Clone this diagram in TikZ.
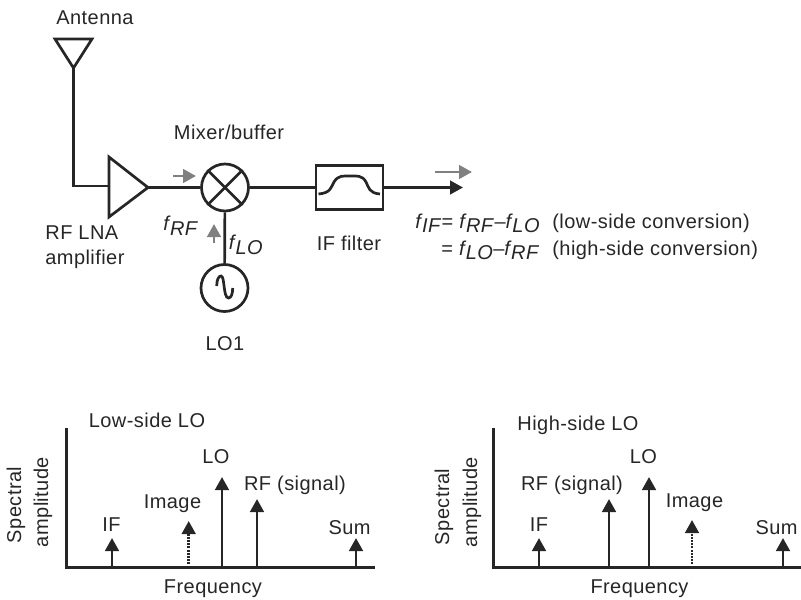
\documentclass[tikz,border=0pt]{standalone}
\usepackage{fontspec}
\setmainfont{Liberation Sans}[LetterSpace=2.2]
\usetikzlibrary{arrows.meta}
\tikzset{
    wire/.style={line width=1.35pt, draw=black!85},
    spike/.style={wire, -{Triangle[length=6.5pt,width=6.8pt]}},
    dotspike/.style={spike, dash pattern=on 1pt off 0.6pt},
    hint/.style={line width=1.3pt, draw=black!50, -{Triangle[length=6.5pt,width=6.8pt]}},
    label/.style={inner sep=0pt, font=\fontsize{10}{12}\selectfont, text=black!85},
    round/.style={draw=black!85, line width=1.35pt, circle, minimum size=23.5pt, inner sep=0pt}
}
\newcommand{\fq}[1]{\textit{f}\kern-0.5pt\raisebox{-0.45ex}{\textit{#1}}}
\begin{document}
\begin{tikzpicture}[x=0.5pt, y=-0.5pt]
    \useasboundingbox (0,0) rectangle (801,599);

    % antenna
    \coordinate (antL) at (55,39);
    \coordinate (antR) at (92,39);
    \coordinate (antTip) at (73.5,68);
    \node[label] (antText) at (95,18) {Antenna};
    \draw[wire, line join=miter] (antL) -- (antR) -- (antTip) -- cycle;

    % LNA
    \coordinate (ampTop) at (109,157);
    \coordinate (ampBot) at (109,217);
    \coordinate (ampTip) at (148,187.5);
    \coordinate (ampIn) at (109,186);
    \draw[wire] (ampTop) -- (ampTip) -- (ampBot) -- cycle;
    \draw[wire] (antTip) |- (ampIn);
    \node[label, anchor=west] (lnaA) at (45,233) {RF LNA};
    \node[label, anchor=west] (lnaB) at (45,259) {amplifier};

    % mixer
    \node[round] (mixer) at (225,187.5) {};
    \draw[wire] (mixer.45) -- (mixer.225);
    \draw[wire] (mixer.135) -- (mixer.315);
    \draw[wire] (ampTip) -- (mixer);
    \node[label] (mixText) at (229,132) {Mixer/buffer};
    \node[label] (fRF) at (181,226) {\fq{RF}};

    % IF filter
    \node[draw=black!85, line width=1.35pt, minimum width=33.5pt, minimum height=22pt, inner sep=0pt] (filter) at (349.5,187.5) {};
    \draw[wire] (318.5,194) .. controls (331,193) and (331,187) .. (334,182)
        .. controls (338,175) and (344,176) .. (350,176)
        .. controls (357,176) and (362,175) .. (366,182)
        .. controls (369,188) and (369,193) .. (380,194);
    \draw[wire] (mixer) -- (filter);
    \coordinate (outEnd) at (463,187.5);
    \draw[spike] (filter) -- (outEnd);
    \node[label] (filText) at (349,243) {IF filter};

    % LO
    \node[round] (osc) at (224.5,288) {};
    \draw[wire] (216.7,286) .. controls (216.7,279) and (219,276) .. (221,276)
        .. controls (225,276) and (223,298) .. (228.5,298)
        .. controls (231,298) and (232.7,294) .. (232.7,288);
    \draw[wire] (mixer) -- (osc);
    \node[label] (fLO) at (246,245) {\fq{LO}};
    \node[label] (oscText) at (225,344) {LO1};

    % grey signal arrows
    \coordinate (rfA) at (173,176);
    \coordinate (rfB) at (196,176);
    \coordinate (loA) at (214,243);
    \coordinate (loB) at (214,224);
    \coordinate (ifA) at (435,172);
    \coordinate (ifB) at (472,172);
    \draw[hint] (rfA) -- (rfB);
    \draw[hint] (loA) -- (loB);
    \draw[hint] (ifA) -- (ifB);

    % equations
    \node[label, anchor=base west] (eqA) at (415,228) {\fq{IF}= \fq{RF}--\fq{LO}};
    \node[label, anchor=base west] (eqB) at (441,255) {= \fq{LO}--\fq{RF}};
    \node[label, anchor=base west] (eqAtext) at (552,228) {(low-side conversion)};
    \node[label, anchor=base west] (eqBtext) at (552,255) {(high-side conversion)};

    % low-side spectrum
    \coordinate (lowTop) at (66.5,428);
    \coordinate (lowO) at (66.5,567.5);
    \coordinate (lowEnd) at (375,567.5);
    \draw[wire] (lowTop) -- (lowO) -- (lowEnd);
    \foreach \x/\y/\s/\n in {112/538/spike/IF, 188.7/521/dotspike/Image, 222/477/spike/LO, 257/499/spike/RF, 356/538/spike/Sum}{
        \coordinate (low\n) at (\x,567.5);
        \coordinate (lowTip\n) at (\x,\y);
        \draw[\s] (low\n) -- (lowTip\n);
    }
    \node[label] (lowTitle) at (147,420) {Low-side LO};
    \node[label] (lowLO) at (216,457) {LO};
    \node[label] (lowRF) at (295,485) {RF (signal)};
    \node[label] (lowIm) at (172.5,504) {Image};
    \node[label] (lowIF) at (111.5,525) {IF};
    \node[label] (lowSum) at (349.5,528) {Sum};
    \node[label] (lowFreq) at (213,589) {Frequency};
    \node[label, rotate=90] (lowSp) at (16,505) {Spectral};
    \node[label, rotate=90] (lowAm) at (43,502) {amplitude};

    % high-side spectrum
    \coordinate (highTop) at (493.5,428);
    \coordinate (highO) at (493.5,567.5);
    \coordinate (highEnd) at (801,567.5);
    \draw[wire] (highTop) -- (highO) -- (highEnd);
    \foreach \x/\y/\s/\n in {539/538/spike/IF, 609/499/spike/RF, 649/477/spike/LO, 692/520/dotspike/Image, 783/538/spike/Sum}{
        \coordinate (high\n) at (\x,567.5);
        \coordinate (highTip\n) at (\x,\y);
        \draw[\s] (high\n) -- (highTip\n);
    }
    \node[label] (highTitle) at (578,425) {High-side LO};
    \node[label] (highLO) at (643.5,457) {LO};
    \node[label] (highRF) at (572,485) {RF (signal)};
    \node[label] (highIm) at (694.5,503) {Image};
    \node[label] (highIF) at (539,525) {IF};
    \node[label] (highSum) at (776.5,528) {Sum};
    \node[label] (highFreq) at (639.5,589) {Frequency};
    \node[label, rotate=90] (highSp) at (444,507) {Spectral};
    \node[label, rotate=90] (highAm) at (472,502) {amplitude};
\end{tikzpicture}
\end{document}
